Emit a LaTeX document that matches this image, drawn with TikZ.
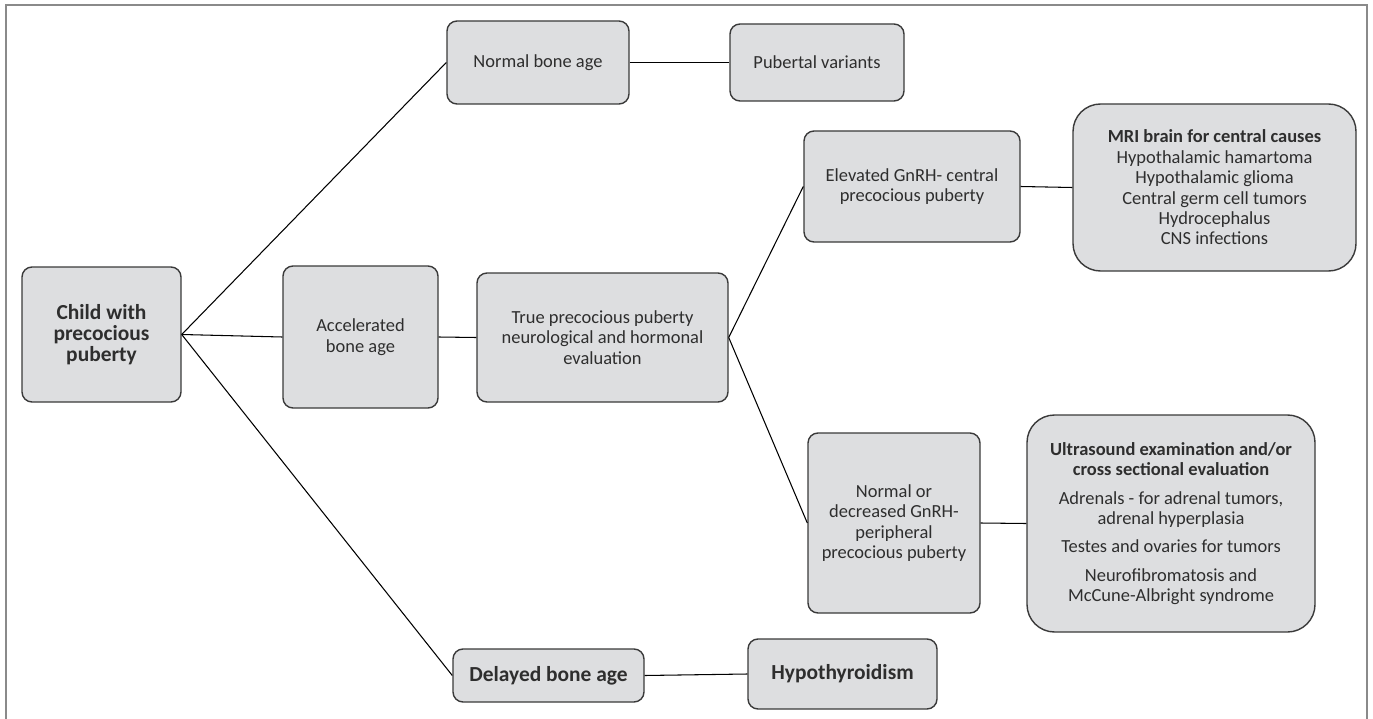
\documentclass[tikz,border=0pt]{standalone}
\usepackage{fontspec}
\setmainfont{Carlito}
\usetikzlibrary{positioning}
\definecolor{boxfill}{HTML}{DDDEE0}
\definecolor{boxline}{HTML}{3A3A3A}
\definecolor{txtgray}{HTML}{2E2E2E}
\definecolor{framegray}{HTML}{8A8A8A}
\tikzset{
  box/.style={draw=boxline,fill=boxfill,line width=0.8pt,rounded corners=0.2cm,align=center,inner sep=0pt,text=txtgray,font=\fontsize{10.5}{11.6}\selectfont},
  bigbox/.style={box,rounded corners=0.55cm},
  head/.style={font=\fontsize{12.2}{12}\selectfont\bfseries},
  link/.style={line width=0.6pt}
}

\begin{document}
\begin{tikzpicture}
  \useasboundingbox (0,0) rectangle (27.46,-14.38);
  \draw[framegray,line width=1.1pt] (0.12,-14.38) -- (0.12,-0.1) -- (27.34,-0.1) -- (27.34,-14.38);

  % first level
  \node[box,head,minimum width=3.18cm,minimum height=2.7cm] (child) at (2.03,-6.69) {Child with\\precocious\\puberty};
  \node[box,minimum width=3.64cm,minimum height=1.66cm] (normal) at (10.76,-1.25) {Normal bone age};
  \node[box,minimum width=3.1cm,minimum height=2.84cm] (accel) at (7.21,-6.74) {Accelerated\\bone age};
  \node[box,head,minimum width=3.82cm,minimum height=1.06cm] (delayed) at (10.97,-13.51) {Delayed bone age};

  % second level
  \node[box,minimum width=3.48cm,minimum height=1.54cm] (pubvar) at (16.34,-1.25) {Pubertal variants};
  \node[box,minimum width=5.02cm,minimum height=2.58cm] (truepp) at (12.05,-6.75) {True precocious puberty\\neurological and hormonal\\evaluation};
  \node[box,head,minimum width=3.78cm,minimum height=1.4cm] (hypo) at (16.85,-13.48) {Hypothyroidism};

  % gnrh branches
  \node[box,minimum width=4.32cm,minimum height=2.22cm] (elev) at (18.24,-3.73) {Elevated GnRH- central\\precocious puberty};
  \node[box,minimum width=3.44cm,minimum height=3.6cm] (normdec) at (17.88,-10.46) {Normal or\\decreased GnRH-\\peripheral\\precocious puberty};

  % imaging
  \node[bigbox,minimum width=5.66cm,minimum height=3.34cm] (mri) at (24.29,-3.75) {\textbf{MRI brain for central causes}\\Hypothalamic hamartoma\\Hypothalamic glioma\\Central germ cell tumors\\Hydrocephalus\\CNS infections};
  \node[bigbox,minimum width=5.76cm,minimum height=4.34cm] (us) at (23.42,-10.47) {\textbf{Ultrasound examination and/or}\\\textbf{cross sectional evaluation}\\[4.5pt]Adrenals - for adrenal tumors,\\adrenal hyperplasia\\[4.5pt]Testes and ovaries for tumors\\[4.5pt]Neurofibromatosis and\\McCune-Albright syndrome};

  \draw[link] (child.east) -- (normal.west);
  \draw[link] (child.east) -- (accel.west);
  \draw[link] (child.east) -- (delayed.west);
  \draw[link] (normal.east) -- (pubvar.west);
  \draw[link] (accel.east) -- (truepp.west);
  \draw[link] (delayed.east) -- (hypo.west);
  \draw[link] (truepp.east) -- (elev.west);
  \draw[link] (truepp.east) -- (normdec.west);
  \draw[link] (elev.east) -- (mri.west);
  \draw[link] (normdec.east) -- (us.west);
\end{tikzpicture}
\end{document}
